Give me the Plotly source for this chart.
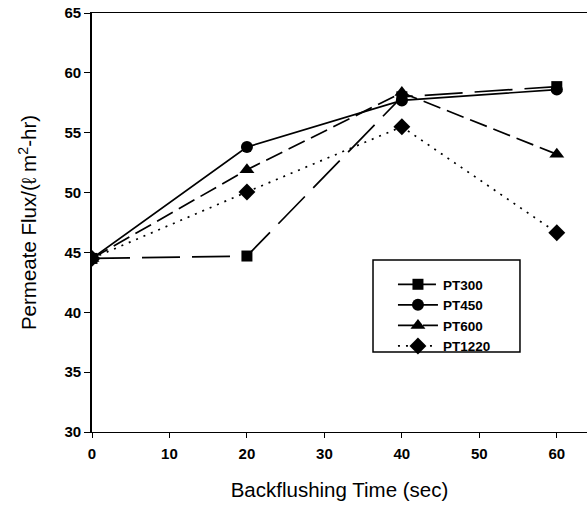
import plotly.graph_objects as go

time_sec = [0, 20, 40, 60]
pt300 = [44.5, 44.7, 58.0, 58.85]
pt450 = [44.5, 53.8, 57.7, 58.6]
pt600 = [44.5, 51.9, 58.35, 53.2]
pt1220 = [44.5, 50.05, 55.5, 46.65]
names = ["PT300", "PT450", "PT600", "PT1220"]
y_ticks = [30, 35, 40, 45, 50, 55, 60, 65]
x_ticks = [0, 10, 20, 30, 40, 50, 60]

series = [pt300, pt450, pt600, pt1220]
symbols = ["square", "circle", "triangle-up", "diamond"]
dashes = ["38px,12px", "solid", "18px,7px", "2px,6px"]
msizes = [11, 12, 13, 13]

fig = go.Figure()
for name, vals, sym, dash, ms in zip(names, series, symbols, dashes, msizes):
    fig.add_trace(go.Scatter(
        x=time_sec, y=vals, name=name, mode="lines+markers",
        line=dict(color="black", width=1.7, dash=dash),
        marker=dict(symbol=sym, size=ms, color="black"),
    ))

font = "Liberation Sans, Arial, sans-serif"
fig.update_layout(
    width=587, height=505,
    margin=dict(l=92, r=0, t=13, b=73, autoexpand=False),
    paper_bgcolor="white", plot_bgcolor="white",
    font=dict(family=font, color="black", size=14),
    showlegend=True,
    legend=dict(
        x=0.608, y=0.389, xanchor="left", yanchor="top",
        borderwidth=0, bgcolor="rgba(0,0,0,0)",
        font=dict(family=font, size=13.5, color="black", weight="bold"),
        itemwidth=40,
    ),
    shapes=[dict(
        type="rect", xref="paper", yref="paper",
        x0=0.5677, x1=0.8646, y0=0.1909, y1=0.4105,
        line=dict(color="black", width=1.5), fillcolor="rgba(0,0,0,0)", layer="below",
    )],
    xaxis=dict(
        range=[0, 63.9], tickvals=x_ticks, ticks="outside", ticklen=5,
        tickwidth=1, tickcolor="black", automargin=False, ticklabelstandoff=3,
        showline=True, linecolor="black", linewidth=1.2, mirror=True,
        showgrid=False, zeroline=False,
        tickfont=dict(family=font, size=15, weight="bold"),
        title=dict(text="Backflushing Time (sec)", font=dict(family=font, size=20.5), standoff=21),
    ),
    yaxis=dict(
        range=[30, 65], tickvals=y_ticks, ticks="outside", ticklen=6,
        tickwidth=1, tickcolor="black", automargin=False, ticklabeloverflow="allow",
        showline=True, linecolor="black", linewidth=1.8, mirror=False,
        showgrid=False, zeroline=False,
        tickfont=dict(family=font, size=15, weight="bold"),
        title=dict(text="Permeate Flux/(ℓ m<sup>2</sup>-hr)", font=dict(family=font, size=20.5), standoff=22),
    ),
)

# remove the page's default body margin so the figure fills the window exactly
fig.write_html("out.html", config={"displayModeBar": False},
               post_script="document.body.style.margin='0px';")
